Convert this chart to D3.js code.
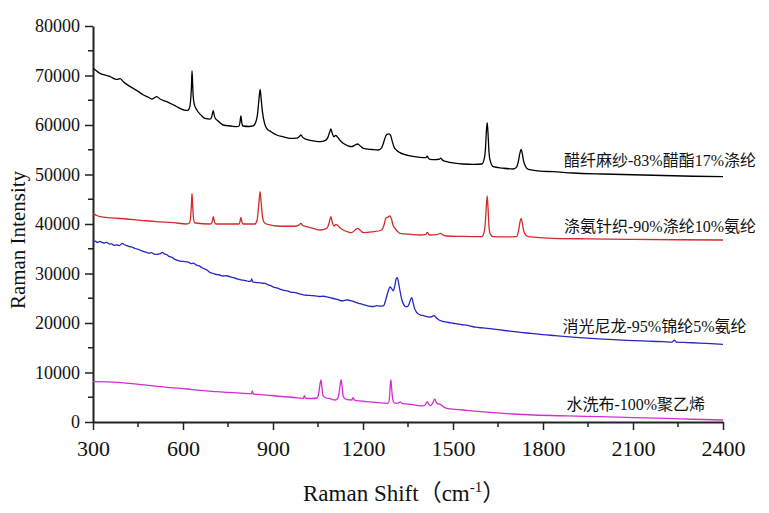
<!DOCTYPE html>
<html><head><meta charset="utf-8">
<script src="https://cdn.jsdelivr.net/npm/d3@7"></script>
<style>
html,body{margin:0;padding:0;background:#fff;}
svg text{font-family:"Liberation Serif","Noto Sans CJK SC",serif;fill:#111;}
</style></head>
<body><svg id="c" width="769" height="513"></svg>
<script>
// ---- data (Raman shift cm-1, intensity) ----
const xTicks = [300,600,900,1200,1500,1800,2100,2400];
const yTicks = [0,10000,20000,30000,40000,50000,60000,70000,80000];
const seriesNames = ["醋纤麻纱-83%醋酯17%涤纶","涤氨针织-90%涤纶10%氨纶","消光尼龙-95%锦纶5%氨纶","水洗布-100%聚乙烯"];
const seriesColors = ["#000000","#d42a2a","#2626c4","#d62ad6"];
const labelAnchors = [[1870,51700],[1870,38300],[1865,18200],[1878,2400]];

const blackSpectrum = [[300,71450],[310,71000],[323,70440],[345,70000],[360,69700],[378,69200],[390,69350],[401,68750],[415,68100],[434,67400],[450,66800],[468,66060],[485,65600],[496,65250],[505,65500],[512,65720],[525,65200],[546,64710],[570,64000],[590,63370],[605,63000],[615,62950],[621,63400],[625,64700],[628,67500],[630,70970],[632,68500],[634,65800],[638,64100],[646,63030],[660,62000],[673,61350],[690,61200],[695,61500],[698,62300],[701,62890],[704,62000],[708,61300],[715,60900],[734,60000],[760,59800],[779,59660],[787,59800],[790,60600],[793,61820],[796,60500],[800,59800],[820,59700],[834,59800],[842,60500],[848,62000],[853,65000],[857,67210],[861,65000],[865,62600],[872,60300],[879,59330],[895,58600],[912,57980],[935,57600],[957,57310],[980,57350],[988,57700],[993,57980],[999,57500],[1012,57100],[1035,56800],[1057,56630],[1075,56900],[1083,57500],[1089,58600],[1093,59190],[1097,58400],[1103,57640],[1109,57900],[1114,57640],[1122,57000],[1134,56300],[1150,55800],[1162,55620],[1172,55900],[1182,56160],[1192,55700],[1201,55290],[1230,55050],[1251,54950],[1262,55400],[1268,56300],[1274,57500],[1280,58100],[1286,58200],[1292,57900],[1297,56800],[1303,55620],[1312,54900],[1323,54410],[1340,54000],[1357,53740],[1390,53470],[1410,53400],[1414,53700],[1418,53300],[1423,53060],[1440,53000],[1455,53100],[1459,53300],[1465,52900],[1479,52590],[1505,52300],[1534,52120],[1570,52050],[1596,52120],[1603,52900],[1608,55000],[1611,58500],[1614,60470],[1617,58000],[1620,54500],[1624,52800],[1634,51580],[1665,51300],[1701,51110],[1712,51500],[1718,52700],[1723,54300],[1727,55090],[1731,54200],[1735,52800],[1741,51700],[1751,51040],[1790,50700],[1834,50570],[1900,50300],[2000,50100],[2100,49950],[2200,49800],[2300,49650],[2400,49560]];

const redSpectrum = [[300,42100],[310,41800],[323,41480],[360,41250],[412,41010],[460,40750],[512,40470],[568,40270],[612,40000],[621,40200],[625,41200],[628,43800],[630,46200],[632,44000],[635,41200],[640,40200],[692,40000],[697,40400],[701,41480],[705,40400],[710,40000],[760,40000],[787,40000],[790,40500],[793,41350],[796,40500],[800,40000],[840,40000],[847,40800],[852,43500],[857,46530],[861,44000],[865,41500],[872,40200],[890,39800],[912,39600],[960,39550],[980,39600],[988,39900],[993,40130],[999,39700],[1012,39460],[1035,39100],[1057,38790],[1079,39130],[1086,40000],[1090,41000],[1093,41480],[1097,40500],[1103,39600],[1108,39850],[1114,39800],[1122,39300],[1134,38790],[1150,38400],[1162,38250],[1172,38700],[1182,39130],[1191,38700],[1201,38250],[1230,38400],[1262,38790],[1270,39800],[1276,41150],[1283,41400],[1290,41620],[1295,41000],[1300,39800],[1307,39130],[1315,38500],[1323,38120],[1360,37900],[1390,37780],[1410,37900],[1414,38320],[1418,38000],[1423,37780],[1445,37850],[1459,38120],[1466,37800],[1479,37580],[1530,37500],[1596,37440],[1603,38200],[1608,40500],[1611,43500],[1614,45660],[1617,43000],[1620,39500],[1624,38000],[1634,37440],[1680,37400],[1712,37440],[1718,38500],[1723,40300],[1727,41150],[1731,40200],[1735,38800],[1741,37900],[1751,37440],[1800,37200],[1834,37110],[1950,37000],[2100,36900],[2250,36820],[2400,36770]];

const blueSpectrum = [[300,36430],[308,36550],[315,36250],[322,36500],[330,36300],[338,36150],[346,36300],[354,35950],[362,36000],[370,35700],[379,35800],[388,35650],[398,36100],[405,35800],[413,35650],[423,35420],[432,35300],[440,35050],[450,34900],[460,34650],[470,34400],[479,34250],[488,34100],[495,34200],[504,33900],[512,33850],[520,33950],[526,34050],[531,34250],[538,33950],[546,33800],[555,33400],[562,33300],[570,32950],[580,32700],[590,32500],[600,32450],[612,32350],[620,32250],[627,32000],[634,32100],[645,31700],[657,31450],[668,31000],[680,30700],[690,30200],[701,30000],[710,29800],[720,29750],[733,29500],[746,29550],[758,29300],[770,29150],[780,28900],[790,28750],[800,28650],[810,28550],[818,28400],[826,28450],[829,28900],[832,28300],[840,28200],[852,28150],[864,28050],[873,28000],[884,27700],[895,27450],[904,27200],[912,27100],[925,26800],[937,26600],[950,26450],[962,26200],[975,26150],[988,25900],[1001,25700],[1015,25600],[1028,25550],[1040,25500],[1055,25350],[1068,25400],[1079,25300],[1092,25100],[1105,24900],[1118,24700],[1126,24500],[1134,24500],[1142,24600],[1150,24650],[1158,24500],[1166,24400],[1176,24150],[1190,23900],[1205,23650],[1220,23400],[1234,23300],[1245,23500],[1256,23400],[1268,23450],[1274,24300],[1279,25400],[1285,26600],[1290,27300],[1295,27000],[1301,26500],[1306,27500],[1310,28800],[1314,29230],[1318,28300],[1323,26600],[1329,24800],[1336,23700],[1342,23300],[1348,23300],[1354,23900],[1359,24800],[1363,25120],[1367,24100],[1371,23100],[1378,22200],[1385,21800],[1392,21600],[1402,21500],[1412,21300],[1420,21200],[1430,21300],[1437,21500],[1443,21100],[1450,20750],[1457,20500],[1470,20300],[1485,20100],[1501,19950],[1515,19800],[1530,19650],[1546,19550],[1560,19350],[1575,19150],[1600,19000],[1630,18800],[1657,18600],[1690,18350],[1725,18100],[1760,17900],[1800,17650],[1840,17450],[1879,17250],[1920,17050],[1960,16900],[2000,16750],[2050,16600],[2101,16450],[2150,16320],[2200,16220],[2230,16150],[2238,16550],[2245,16150],[2280,16050],[2320,15950],[2360,15820],[2400,15700]];

const magentaSpectrum = [[300,8140],[340,8100],[379,8020],[420,7800],[460,7550],[500,7300],[546,7010],[590,6800],[630,6550],[670,6330],[712,6120],[750,5980],[790,5850],[828,5700],[831,6300],[834,5650],[860,5550],[879,5450],[910,5250],[940,5100],[970,4950],[1001,4780],[1005,5300],[1008,4800],[1030,4750],[1046,4850],[1052,5600],[1056,7400],[1060,8480],[1063,7000],[1067,5300],[1073,4950],[1090,4700],[1107,4440],[1116,4800],[1121,6200],[1125,8000],[1127,8480],[1130,7300],[1134,5200],[1140,4700],[1155,4450],[1162,4440],[1167,4900],[1172,4440],[1190,4250],[1212,4110],[1250,3900],[1284,3770],[1288,4800],[1291,7600],[1293,8480],[1295,7200],[1299,4600],[1304,3850],[1312,3770],[1320,3900],[1324,4050],[1330,3750],[1360,3550],[1401,3250],[1408,3500],[1414,4110],[1419,3600],[1425,3300],[1432,3800],[1439,4650],[1444,4000],[1448,3700],[1455,3600],[1460,3450],[1470,3000],[1479,2760],[1510,2550],[1546,2350],[1590,2100],[1634,1880],[1700,1620],[1768,1410],[1880,1220],[1990,1070],[2100,900],[2212,740],[2300,560],[2400,400]];

const spectra = [blackSpectrum, redSpectrum, blueSpectrum, magentaSpectrum];

// ---- chart ----
const svg = d3.select("#c");
const L = 93, R = 723, T = 26, B = 422;
const x = d3.scaleLinear().domain([300,2400]).range([L,R]);
const y = d3.scaleLinear().domain([0,80000]).range([B,T]);

const xMinor = d3.range(450, 2400, 300);
const yMinor = d3.range(5000, 80000, 10000);

const gx = svg.append("g").attr("transform",`translate(0,${B})`);
gx.call(d3.axisBottom(x).tickValues(xTicks).tickFormat(d3.format("d")).tickSize(8).tickSizeOuter(0));
gx.selectAll("text").attr("font-size",22).attr("dy","1.05em");
gx.append("g").selectAll("line").data(xMinor).join("line")
  .attr("x1",d=>x(d)).attr("x2",d=>x(d)).attr("y1",0).attr("y2",5).attr("stroke","#222").attr("stroke-width",1.5);

const gy = svg.append("g").attr("transform",`translate(${L},0)`);
gy.call(d3.axisLeft(y).tickValues(yTicks).tickFormat(d3.format("d")).tickSize(8).tickSizeOuter(0));
gy.selectAll("text").attr("font-size",18).attr("x",-13);
gy.append("g").selectAll("line").data(yMinor).join("line")
  .attr("y1",d=>y(d)).attr("y2",d=>y(d)).attr("x1",0).attr("x2",-5).attr("stroke","#222").attr("stroke-width",1.5);

svg.selectAll(".domain").attr("stroke","#222").attr("stroke-width",2);
svg.selectAll(".tick line").attr("stroke","#222").attr("stroke-width",1.5);

const line = d3.line().x(d=>x(d[0])).y(d=>y(d[1])).curve(d3.curveMonotoneX);
svg.append("g").selectAll("path").data(spectra).join("path")
  .attr("d",line).attr("fill","none")
  .attr("stroke",(d,i)=>seriesColors[i]).attr("stroke-width",1.3).attr("stroke-linejoin","round");

svg.append("g").selectAll("text").data(seriesNames).join("text")
  .attr("x",(d,i)=>x(labelAnchors[i][0]))
  .attr("y",(d,i)=>y(labelAnchors[i][1]))
  .attr("font-size",16).attr("fill","#222").text(d=>d);

svg.append("text").attr("transform","translate(25,240) rotate(-90)")
  .attr("text-anchor","middle").attr("font-size",21).text("Raman Intensity");
const xt = svg.append("text").attr("x",303).attr("y",501).attr("font-size",23);
xt.append("tspan").text("Raman Shift（cm");
xt.append("tspan").attr("dy",-9).attr("font-size",15).text("-1");
xt.append("tspan").attr("dy",9).text("）");
</script></body></html>
